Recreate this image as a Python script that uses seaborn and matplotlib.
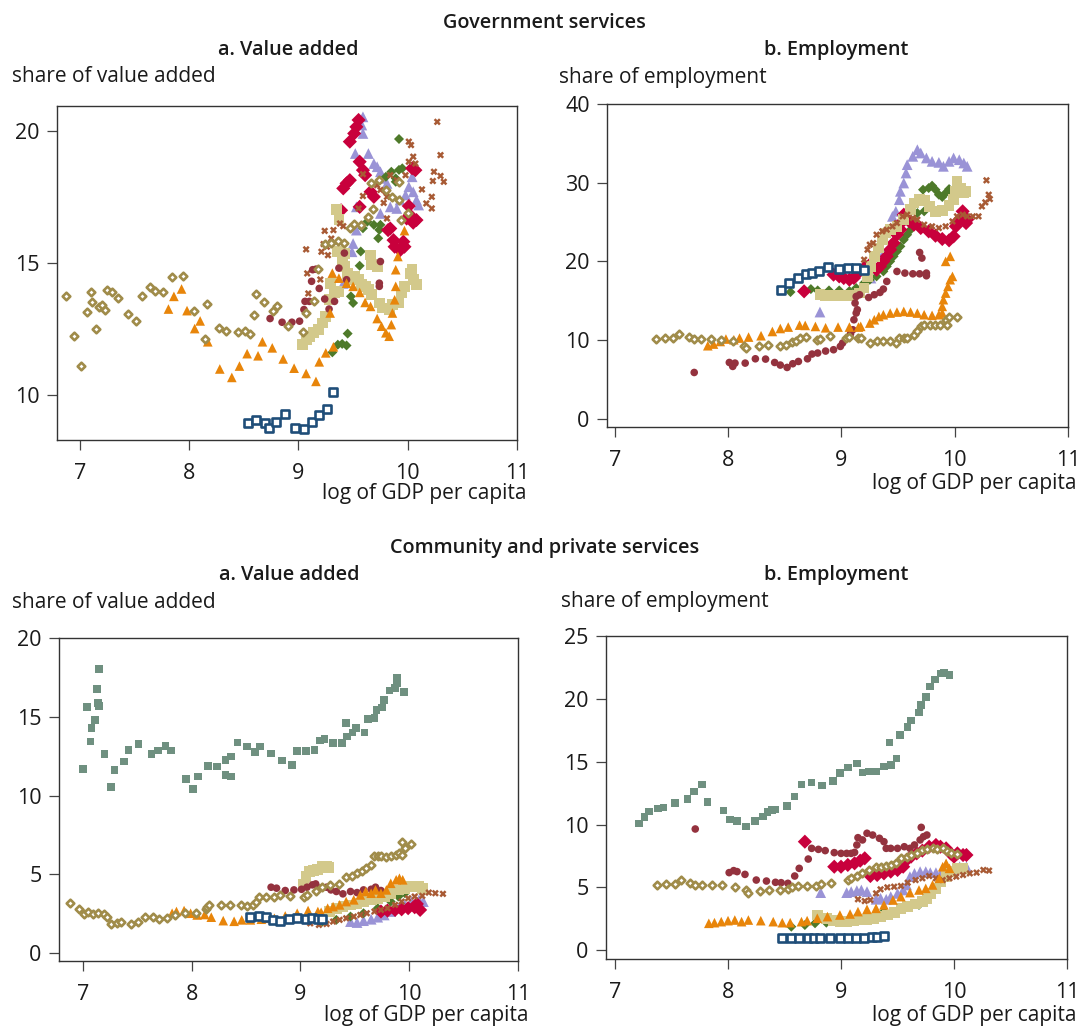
import matplotlib
matplotlib.use("Agg")
import matplotlib.pyplot as plt
import seaborn as sns
import pandas as pd

# ---------------- DATA: (log GDP per capita, share) ----------------
# Government services - value added
GV_NAVY = [(8.54, 8.96), (8.61, 9.06), (8.69, 8.93), (8.73, 8.77), (8.79, 8.98), (8.88, 9.27),
           (8.97, 8.74), (9.05, 8.70), (9.12, 8.98), (9.19, 9.23), (9.26, 9.46), (9.32, 10.13)]
GV_OLIVE = [(6.87, 13.77), (6.95, 12.22), (7.01, 11.12), (7.06, 13.15), (7.10, 13.89), (7.11, 13.51),
            (7.15, 12.50), (7.17, 13.34), (7.20, 13.43), (7.23, 13.21), (7.25, 13.99), (7.29, 13.90),
            (7.35, 13.69), (7.44, 13.07), (7.51, 12.82), (7.57, 13.77), (7.64, 14.10), (7.69, 13.93),
            (7.76, 13.90), (7.84, 14.47), (7.94, 14.50), (8.04, 13.17), (8.14, 12.14), (8.16, 13.45),
            (8.27, 12.53), (8.34, 12.44), (8.45, 12.39), (8.51, 12.44), (8.56, 12.30), (8.59, 13.02),
            (8.61, 13.82), (8.68, 13.54), (8.77, 13.20), (8.80, 13.36), (8.90, 12.60), (9.04, 12.39),
            (9.07, 13.11), (9.14, 13.55), (9.18, 14.77), (9.24, 15.72), (9.30, 15.76), (9.36, 15.82),
            (9.42, 15.76), (9.47, 16.32), (9.51, 16.49), (9.57, 16.45), (9.64, 16.76), (9.68, 17.05),
            (9.66, 18.05), (9.74, 18.15), (9.80, 17.77), (9.86, 17.52), (9.92, 17.39), (9.94, 16.64),
            (10.00, 16.89), (9.92, 18.09)]
GV_ORANGE = [(7.81, 13.26), (7.86, 13.74), (7.93, 14.02), (7.98, 13.20), (8.05, 12.52), (8.10, 12.81),
             (8.17, 12.02), (8.28, 10.99), (8.39, 10.67), (8.46, 11.10), (8.53, 11.57), (8.63, 11.49),
             (8.67, 12.02), (8.76, 11.79), (8.86, 11.37), (8.96, 11.02), (9.07, 10.82), (9.16, 10.52),
             (9.19, 11.26), (9.25, 11.60), (9.32, 11.83), (9.29, 13.11), (9.31, 14.62), (9.37, 14.43),
             (9.44, 14.24), (9.50, 14.12), (9.56, 13.89), (9.61, 13.51), (9.66, 13.36), (9.72, 12.90),
             (9.76, 12.61), (9.80, 12.36), (9.83, 12.23), (9.85, 12.67), (9.86, 13.11), (9.88, 13.61),
             (9.89, 14.12), (9.89, 14.75), (9.91, 15.25), (9.97, 16.23)]
GV_DKRED = [(8.74, 12.90), (8.85, 12.76), (8.94, 12.76), (9.01, 12.80), (9.05, 13.24), (9.06, 13.55),
            (9.10, 13.55), (9.12, 14.31), (9.13, 14.75), (9.16, 14.77), (9.19, 14.04), (9.24, 13.64),
            (9.28, 13.26), (9.33, 13.55), (9.37, 14.81), (9.42, 15.38), (9.44, 14.37), (9.74, 14.24),
            (9.75, 15.06), (9.74, 14.12)]
GV_GREEN = [(9.31, 11.62), (9.36, 11.91), (9.40, 11.94), (9.44, 11.88), (9.45, 12.33), (9.48, 13.74),
            (9.50, 13.49), (9.56, 14.90), (9.57, 15.44), (9.59, 16.32), (9.63, 16.57), (9.69, 16.45),
            (9.73, 15.94), (9.74, 16.26), (9.75, 16.45), (9.80, 18.27), (9.85, 18.46), (9.89, 18.21),
            (9.92, 18.53), (9.95, 18.59), (9.92, 19.70), (9.89, 18.08)]
GV_CRIMSON = [(9.55, 20.42), (9.53, 20.16), (9.51, 19.91), (9.47, 19.60), (9.56, 18.84), (9.59, 18.52),
              (9.61, 18.33), (9.41, 17.83), (9.44, 18.02), (9.47, 18.14), (9.66, 17.70), (9.69, 17.51),
              (9.84, 16.31), (9.87, 15.87), (9.88, 15.62), (9.93, 15.49), (9.97, 15.62), (9.96, 15.81),
              (9.99, 16.69), (10.02, 16.82), (10.05, 16.53), (10.08, 16.63), (10.07, 18.52), (10.04, 18.59),
              (9.56, 17.13), (9.82, 16.25), (10.01, 17.16), (9.39, 17.00)]
GV_LAVENDER = [(9.59, 20.54), (9.58, 20.23), (9.59, 19.91), (9.52, 19.15), (9.64, 19.15), (9.69, 18.77),
               (9.72, 18.65), (9.75, 18.46), (9.78, 18.21), (9.81, 18.02), (9.53, 17.13), (9.75, 16.88),
               (9.84, 17.13), (9.90, 17.07), (9.93, 17.39), (9.98, 17.58), (10.01, 17.89), (10.05, 17.70),
               (10.08, 17.39), (10.10, 17.20), (10.04, 18.27), (9.50, 15.74), (9.49, 15.43), (9.41, 14.23),
               (9.53, 16.25)]
GV_KHAKI = [(9.35, 17.02), (9.37, 16.64), (9.36, 15.44), (9.42, 15.35), (9.40, 15.13), (9.42, 14.87),
            (9.45, 14.62), (9.48, 14.37), (9.51, 14.50), (9.55, 14.37), (9.58, 14.18), (9.61, 14.12),
            (9.66, 15.31), (9.67, 14.94), (9.72, 14.87), (9.64, 13.99), (9.67, 13.80), (9.74, 13.49),
            (9.77, 13.30), (9.83, 13.24), (9.86, 13.43), (9.92, 13.49), (9.94, 13.87), (9.97, 14.12),
            (10.02, 14.62), (10.04, 14.75), (10.05, 14.37), (10.08, 14.18), (9.28, 13.61), (9.25, 12.98),
            (9.22, 12.73), (9.18, 12.48), (9.14, 12.36), (9.10, 12.23), (9.07, 12.10), (9.04, 11.91),
            (9.29, 14.24), (9.33, 13.87), (9.37, 13.93)]
GV_RUST = [(10.27, 20.35), (10.01, 19.60), (10.03, 19.47), (10.30, 19.09), (10.05, 19.03), (10.01, 18.84),
           (10.07, 18.77), (10.24, 18.46), (10.30, 18.30), (10.33, 18.08), (10.23, 18.11), (10.13, 17.79),
           (10.22, 17.51), (10.17, 17.26), (10.22, 17.07), (9.75, 17.77), (9.81, 17.51), (9.72, 17.95),
           (9.59, 18.37), (9.90, 18.14), (9.98, 18.33), (9.84, 18.33), (9.59, 17.54), (9.55, 17.07),
           (9.38, 16.50), (9.41, 16.40), (9.32, 16.25), (9.24, 16.22), (9.30, 15.93), (9.23, 15.72),
           (9.26, 15.62), (9.21, 15.43), (9.27, 15.30), (9.07, 15.52), (9.08, 14.61), (9.20, 14.38),
           (9.09, 13.85), (9.81, 16.69), (9.78, 17.28), (9.80, 17.70)]

# Government services - employment
GE_NAVY = [(8.47, 16.30), (8.54, 17.24), (8.62, 17.88), (8.69, 18.39), (8.74, 18.51), (8.80, 18.81),
           (8.88, 19.23), (8.98, 19.02), (9.06, 19.15), (9.13, 19.15), (9.20, 18.94)]
GE_OLIVE = [(7.36, 10.13), (7.44, 10.20), (7.51, 10.29), (7.57, 10.76), (7.65, 10.38), (7.70, 10.13),
            (7.76, 10.13), (7.85, 10.13), (7.94, 10.04), (8.04, 9.87), (8.14, 9.28), (8.16, 8.98),
            (8.27, 9.19), (8.35, 9.31), (8.46, 9.23), (8.51, 9.36), (8.56, 9.78), (8.60, 9.82),
            (8.63, 10.20), (8.69, 10.38), (8.78, 10.04), (8.81, 10.17), (8.90, 10.46), (9.04, 10.29),
            (9.07, 10.38), (9.15, 10.25), (9.17, 10.25), (9.25, 9.62), (9.31, 9.83), (9.37, 9.83),
            (9.43, 9.83), (9.48, 9.62), (9.51, 10.25), (9.55, 10.25), (9.58, 10.25), (9.64, 10.68),
            (9.67, 11.10), (9.70, 11.74), (9.73, 11.95), (9.78, 11.95), (9.83, 11.95), (9.87, 11.95),
            (9.92, 12.58), (9.93, 11.95), (9.95, 12.92), (10.02, 12.92)]
GE_ORANGE = [(7.82, 9.28), (7.87, 9.49), (7.93, 9.82), (7.98, 10.13), (8.05, 10.04), (8.10, 10.25),
             (8.18, 10.38), (8.29, 10.55), (8.39, 11.09), (8.46, 11.47), (8.53, 11.65), (8.63, 11.90),
             (8.68, 11.86), (8.77, 11.73), (8.86, 11.56), (8.97, 11.65), (9.07, 11.65), (9.15, 11.65),
             (9.17, 11.74), (9.25, 12.16), (9.29, 12.58), (9.33, 13.00), (9.37, 13.22), (9.43, 13.43),
             (9.49, 13.56), (9.55, 13.64), (9.61, 13.56), (9.67, 13.43), (9.73, 13.22), (9.80, 13.14),
             (9.86, 13.22), (9.89, 13.43), (9.89, 14.28), (9.90, 15.13), (9.92, 15.97), (9.94, 16.82),
             (9.96, 17.67), (9.98, 18.09), (9.92, 20.00), (9.96, 20.64)]
GE_DKRED = [(7.70, 5.88), (8.01, 7.15), (8.04, 6.65), (8.06, 7.07), (8.15, 7.07), (8.24, 7.62),
            (8.33, 7.58), (8.41, 7.15), (8.46, 6.82), (8.52, 6.52), (8.57, 6.99), (8.62, 7.28),
            (8.70, 7.62), (8.74, 8.22), (8.79, 8.35), (8.86, 8.60), (8.93, 8.77), (8.99, 9.19),
            (9.01, 9.62), (9.06, 10.25), (9.08, 10.80), (9.10, 11.31), (9.11, 12.58), (9.13, 13.43),
            (9.14, 13.85), (9.12, 14.70), (9.13, 15.54), (9.16, 15.76), (9.24, 15.41), (9.29, 15.76),
            (9.34, 16.05), (9.37, 16.48), (9.40, 17.45), (9.49, 18.72), (9.56, 18.51), (9.63, 18.42),
            (9.69, 18.42), (9.75, 18.51), (9.69, 21.13), (9.71, 20.42), (9.75, 18.17)]
GE_GREEN = [(8.55, 16.10), (8.73, 16.48), (8.79, 16.31), (8.89, 16.31), (8.98, 16.31), (9.07, 16.23),
            (9.13, 16.61), (9.20, 17.25), (9.25, 17.67), (9.31, 18.09), (9.37, 18.73), (9.40, 19.36),
            (9.43, 20.00), (9.46, 20.64), (9.49, 21.27), (9.52, 21.91), (9.55, 22.75), (9.58, 23.39),
            (9.61, 24.03), (9.64, 24.87), (9.67, 26.14), (9.73, 26.36), (9.72, 29.11), (9.77, 29.32),
            (9.80, 29.62), (9.83, 29.11), (9.86, 28.47), (9.89, 28.18), (9.92, 28.69), (9.95, 29.19)]
GE_CRIMSON = [(8.67, 16.19), (8.93, 18.31), (8.98, 18.09), (9.02, 17.88), (9.07, 17.67), (9.11, 17.88),
              (9.16, 18.73), (9.20, 19.15), (9.25, 19.58), (9.31, 18.94), (9.34, 19.36), (9.37, 20.00),
              (9.40, 20.64), (9.43, 21.48), (9.46, 22.33), (9.49, 23.39), (9.52, 24.03), (9.54, 25.08),
              (9.55, 25.93), (9.60, 25.08), (9.64, 24.66), (9.70, 24.24), (9.77, 23.81), (9.83, 23.26),
              (9.89, 22.84), (9.95, 22.67), (9.99, 23.18), (10.01, 24.45), (10.04, 25.30), (10.07, 26.36),
              (10.10, 24.87), (10.11, 25.30)]
GE_LAVENDER = [(8.81, 13.56), (9.26, 17.88), (9.33, 19.36), (9.37, 21.06), (9.42, 24.03), (9.45, 25.72),
               (9.48, 26.36), (9.51, 27.84), (9.52, 28.90), (9.55, 29.96), (9.57, 31.23), (9.58, 32.29),
               (9.63, 33.35), (9.67, 34.19), (9.70, 33.77), (9.75, 33.14), (9.80, 32.71), (9.86, 32.58),
               (9.90, 32.08), (9.95, 32.71), (9.99, 33.14), (10.04, 32.92), (10.08, 32.50), (10.11, 32.08)]
GE_KHAKI = [(8.81, 15.76), (8.86, 15.64), (8.92, 15.64), (8.98, 15.64), (9.04, 15.64), (9.10, 15.64),
            (9.16, 15.97), (9.20, 16.61), (9.23, 18.09), (9.26, 19.36), (9.29, 20.64), (9.33, 21.69),
            (9.36, 22.75), (9.39, 23.60), (9.43, 24.03), (9.49, 24.45), (9.55, 25.30), (9.61, 26.57),
            (9.64, 27.42), (9.69, 27.84), (9.73, 27.75), (9.78, 26.99), (9.83, 26.36), (9.89, 26.48),
            (9.95, 27.08), (9.99, 27.84), (10.01, 28.90), (10.02, 30.17), (10.05, 29.32), (10.08, 28.69),
            (10.10, 28.90)]
GE_RUST = [(9.20, 20.21), (9.23, 21.48), (9.25, 22.12), (9.28, 22.33), (9.31, 23.39), (9.36, 23.81),
           (9.40, 24.03), (9.45, 24.45), (9.49, 24.87), (9.54, 25.72), (9.58, 25.93), (9.63, 25.51),
           (9.67, 25.30), (9.73, 24.66), (9.80, 24.45), (9.86, 24.24), (9.92, 24.45), (9.98, 25.08),
           (10.02, 25.72), (10.07, 25.93), (10.11, 25.72), (10.16, 25.72), (10.21, 25.72), (10.24, 26.99),
           (10.27, 27.50), (10.31, 27.92), (10.30, 28.47), (10.28, 30.30)]

# Community and private services - value added
CV_GRAY = [(7.00, 11.68), (7.04, 15.62), (7.07, 13.44), (7.08, 14.29), (7.11, 14.81), (7.13, 16.76),
           (7.14, 15.87), (7.15, 18.03), (7.15, 15.70), (7.20, 12.63), (7.26, 10.54), (7.29, 11.64),
           (7.38, 12.17), (7.42, 12.91), (7.51, 13.29), (7.63, 12.66), (7.69, 12.87), (7.76, 13.16),
           (7.81, 12.87), (7.95, 11.05), (8.01, 10.43), (8.06, 11.22), (8.15, 11.89), (8.23, 11.85),
           (8.31, 12.28), (8.31, 11.32), (8.36, 12.49), (8.36, 11.22), (8.42, 13.38), (8.51, 13.12),
           (8.58, 12.76), (8.63, 13.12), (8.73, 12.68), (8.83, 12.23), (8.92, 11.96), (8.97, 12.85),
           (9.05, 12.85), (9.13, 12.89), (9.18, 13.50), (9.22, 13.59), (9.30, 13.35), (9.38, 13.35),
           (9.42, 14.60), (9.43, 13.76), (9.48, 14.01), (9.51, 14.29), (9.59, 14.01), (9.62, 14.86),
           (9.68, 14.92), (9.70, 15.45), (9.75, 15.60), (9.77, 16.08), (9.82, 16.68), (9.87, 16.83),
           (9.89, 17.14), (9.89, 17.50), (9.95, 16.59)]
CV_NAVY = [(8.54, 2.29), (8.62, 2.37), (8.68, 2.29), (8.75, 2.12), (8.81, 2.07), (8.89, 2.18),
           (8.97, 2.22), (9.05, 2.18), (9.11, 2.22), (9.16, 2.16), (9.20, 2.16)]
CV_OLIVE = [(6.88, 3.17), (6.96, 2.79), (7.01, 2.50), (7.05, 2.65), (7.09, 2.50), (7.14, 2.54),
            (7.19, 2.50), (7.22, 2.29), (7.26, 1.86), (7.31, 1.95), (7.35, 1.97), (7.44, 1.86),
            (7.51, 2.01), (7.57, 2.33), (7.64, 2.33), (7.70, 2.18), (7.77, 2.22), (7.85, 2.41),
            (7.94, 2.58), (8.04, 2.58), (8.13, 2.79), (8.14, 2.92), (8.16, 3.07), (8.27, 3.07),
            (8.35, 3.07), (8.45, 3.07), (8.51, 3.03), (8.56, 3.07), (8.59, 3.28), (8.62, 3.56),
            (8.68, 3.60), (8.76, 3.56), (8.81, 3.70), (8.90, 3.66), (9.03, 3.60), (9.06, 3.70),
            (9.14, 3.98), (9.20, 4.23), (9.27, 4.34), (9.35, 4.40), (9.42, 4.87), (9.47, 4.93),
            (9.52, 5.08), (9.57, 5.25), (9.60, 5.40), (9.65, 5.61), (9.68, 6.14), (9.71, 6.14),
            (9.74, 6.18), (9.79, 6.10), (9.83, 6.14), (9.88, 6.24), (9.91, 6.35), (9.93, 6.24),
            (9.93, 7.07), (9.96, 6.67), (10.02, 6.94)]
CV_ORANGE = [(7.82, 2.54), (7.86, 2.65), (7.93, 2.71), (7.99, 2.54), (8.05, 2.43), (8.12, 2.46),
             (8.18, 2.29), (8.29, 2.07), (8.39, 2.03), (8.46, 2.12), (8.54, 2.12), (8.64, 2.16),
             (8.68, 2.22), (8.76, 2.22), (8.86, 2.37), (8.97, 2.54), (9.07, 2.71), (9.16, 2.65),
             (9.19, 2.60), (9.25, 2.86), (9.30, 2.96), (9.36, 3.07), (9.42, 3.28), (9.49, 3.39),
             (9.55, 3.70), (9.60, 3.92), (9.65, 3.81), (9.69, 4.02), (9.74, 3.81), (9.79, 4.02),
             (9.83, 4.44), (9.88, 4.66), (9.91, 4.76), (9.94, 4.66)]
CV_DKRED = [(8.73, 4.19), (8.78, 4.13), (8.86, 3.98), (8.94, 4.02), (9.01, 4.06), (9.06, 4.19),
            (9.11, 4.34), (9.14, 4.40), (9.17, 4.13), (9.24, 4.19), (9.28, 4.02), (9.33, 3.92),
            (9.39, 3.77), (9.46, 3.92), (9.52, 3.85), (9.58, 4.02), (9.65, 4.06), (9.69, 4.19),
            (9.74, 3.98)]
CV_GREEN = [(9.20, 2.01), (9.33, 2.12), (9.46, 2.33), (9.58, 2.54), (9.71, 2.86), (9.83, 3.28),
            (9.90, 3.60), (9.96, 3.81)]
CV_CRIMSON = [(9.74, 2.65), (9.80, 2.71), (9.87, 2.75), (9.93, 2.79), (9.99, 2.86), (10.05, 2.92),
              (10.10, 2.75), (10.07, 3.13)]
CV_LAVENDER = [(9.46, 2.01), (9.52, 1.95), (9.58, 2.07), (9.65, 2.16), (9.71, 2.29), (9.77, 2.43),
               (9.83, 2.65), (9.90, 2.86), (9.96, 3.07), (10.02, 3.28), (10.09, 3.39), (10.13, 3.28)]
CV_KHAKI = [(9.03, 4.34), (9.05, 4.87), (9.08, 5.19), (9.12, 5.25), (9.16, 5.33), (9.20, 5.50),
            (9.24, 5.54), (9.26, 5.46), (9.27, 2.65), (9.33, 2.86), (9.39, 2.96), (9.46, 3.07),
            (9.52, 3.17), (9.58, 3.28), (9.65, 3.39), (9.71, 3.49), (9.77, 3.60), (9.83, 3.81),
            (9.90, 4.02), (9.96, 4.13), (10.02, 4.23), (10.09, 4.23), (10.12, 4.13)]
CV_RUST = [(9.09, 1.90), (9.17, 1.80), (9.24, 1.86), (9.30, 2.01), (9.36, 2.12), (9.42, 2.22),
           (9.49, 2.33), (9.55, 2.43), (9.61, 2.54), (9.68, 2.65), (9.74, 2.75), (9.80, 2.86),
           (9.87, 3.07), (9.93, 3.28), (9.99, 3.49), (10.05, 3.60), (10.12, 3.64), (10.18, 3.85),
           (10.24, 3.81), (10.31, 3.77)]

# Community and private services - employment
CE_GRAY = [(7.21, 10.10), (7.26, 10.58), (7.30, 11.03), (7.38, 11.29), (7.43, 11.37), (7.53, 11.74),
           (7.64, 12.04), (7.70, 12.62), (7.77, 13.20), (7.82, 11.82), (7.96, 11.11), (8.02, 10.42),
           (8.08, 10.31), (8.16, 9.84), (8.24, 10.29), (8.31, 10.63), (8.35, 10.98), (8.39, 11.16),
           (8.42, 11.21), (8.52, 11.48), (8.59, 12.22), (8.65, 13.20), (8.74, 13.34), (8.83, 13.10),
           (8.93, 13.47), (8.99, 14.08), (9.06, 14.55), (9.14, 14.87), (9.19, 14.13), (9.25, 14.21),
           (9.31, 14.21), (9.38, 14.61), (9.44, 14.74), (9.43, 16.54), (9.49, 15.27), (9.52, 17.13),
           (9.59, 17.74), (9.62, 18.27), (9.69, 18.93), (9.71, 19.51), (9.75, 20.17), (9.79, 20.97),
           (9.83, 21.55), (9.88, 22.03), (9.91, 22.08), (9.96, 21.90)]
CE_NAVY = [(8.48, 0.95), (8.56, 0.95), (8.63, 0.95), (8.71, 0.95), (8.76, 0.95), (8.81, 0.95),
           (8.90, 1.01), (8.99, 0.95), (9.06, 0.95), (9.13, 0.95), (9.20, 1.01), (9.27, 1.03),
           (9.32, 1.09), (9.38, 1.14)]
CE_OLIVE = [(7.37, 5.20), (7.45, 5.25), (7.53, 5.28), (7.58, 5.59), (7.66, 5.33), (7.71, 5.20),
            (7.77, 5.20), (7.86, 5.20), (7.95, 5.20), (8.06, 5.06), (8.16, 4.80), (8.18, 4.59),
            (8.28, 4.72), (8.36, 4.80), (8.46, 4.80), (8.53, 4.85), (8.57, 5.01), (8.62, 5.12),
            (8.70, 5.14), (8.78, 5.14), (8.82, 5.28), (8.91, 5.33), (9.06, 5.59), (9.09, 5.78),
            (9.14, 5.91), (9.19, 6.12), (9.25, 6.39), (9.31, 6.65), (9.35, 6.65), (9.40, 6.73),
            (9.44, 6.79), (9.49, 6.92), (9.53, 7.32), (9.58, 7.45), (9.62, 7.58), (9.67, 7.71),
            (9.72, 7.98), (9.76, 8.03), (9.81, 8.11), (9.85, 8.03), (9.90, 8.11), (9.94, 7.93),
            (9.97, 7.71), (10.03, 7.66)]
CE_ORANGE = [(7.83, 2.15), (7.88, 2.20), (7.94, 2.28), (8.00, 2.36), (8.06, 2.41), (8.12, 2.28),
             (8.18, 2.41), (8.29, 2.36), (8.40, 2.28), (8.48, 2.20), (8.55, 2.20), (8.65, 2.28),
             (8.70, 2.36), (8.79, 2.55), (8.88, 2.68), (8.99, 2.81), (9.08, 2.89), (9.15, 3.08),
             (9.23, 3.26), (9.31, 3.34), (9.38, 3.61), (9.46, 4.00), (9.53, 4.27), (9.61, 4.59),
             (9.69, 4.80), (9.75, 4.93), (9.81, 5.20), (9.87, 5.73), (9.90, 6.65), (9.93, 6.92),
             (9.96, 6.52)]
CE_DKRED = [(7.71, 9.65), (8.01, 6.18), (8.05, 6.34), (8.08, 6.26), (8.15, 6.04), (8.25, 5.59),
            (8.34, 5.51), (8.42, 5.41), (8.47, 5.38), (8.53, 5.33), (8.59, 5.91), (8.63, 6.52),
            (8.71, 7.26), (8.74, 8.11), (8.80, 8.03), (8.86, 7.93), (8.94, 7.77), (9.00, 7.71),
            (9.05, 7.71), (9.09, 7.71), (9.12, 7.79), (9.14, 8.38), (9.15, 8.96), (9.19, 8.78),
            (9.23, 9.31), (9.28, 9.17), (9.34, 8.91), (9.38, 8.64), (9.40, 8.11), (9.44, 8.11),
            (9.50, 8.11), (9.56, 8.24), (9.61, 8.11), (9.65, 8.38), (9.70, 8.78), (9.73, 9.04),
            (9.76, 9.17), (9.71, 9.78)]
CE_GREEN = [(8.56, 1.88), (8.68, 2.01), (8.77, 2.15), (8.87, 2.20), (8.99, 2.47), (9.14, 2.68),
            (9.38, 3.08), (9.56, 3.34), (9.69, 3.61), (9.76, 4.00)]
CE_CRIMSON = [(8.68, 8.64), (8.94, 6.65), (9.00, 6.65), (9.06, 6.79), (9.12, 6.92), (9.17, 7.13),
              (9.21, 7.32), (9.26, 5.91), (9.32, 5.99), (9.38, 6.12), (9.44, 6.26), (9.50, 6.39),
              (9.55, 6.65), (9.58, 7.18), (9.62, 7.45), (9.67, 7.71), (9.72, 7.93), (9.78, 8.24),
              (9.84, 8.38), (9.88, 8.24), (9.93, 8.11), (9.97, 7.71), (10.00, 7.45), (10.03, 7.71),
              (10.08, 7.58), (10.11, 7.58)]
CE_LAVENDER = [(8.82, 4.59), (9.05, 4.59), (9.09, 4.67), (9.14, 4.75), (9.18, 4.80), (9.23, 4.67),
               (9.31, 4.06), (9.35, 4.14), (9.40, 4.06), (9.44, 4.27), (9.50, 4.53), (9.55, 4.80),
               (9.58, 5.20), (9.61, 5.86), (9.65, 6.12), (9.70, 6.26), (9.75, 6.26), (9.79, 6.18),
               (9.84, 6.18), (9.88, 6.07), (9.93, 6.26), (9.99, 6.39), (10.05, 6.65), (10.11, 6.65)]
CE_KHAKI = [(8.79, 2.81), (8.87, 2.55), (8.93, 2.36), (8.99, 2.28), (9.05, 2.28), (9.11, 2.36),
            (9.17, 2.47), (9.23, 2.47), (9.29, 2.55), (9.35, 2.68), (9.41, 2.81), (9.47, 3.00),
            (9.53, 3.34), (9.59, 3.47), (9.66, 3.69), (9.72, 3.87), (9.76, 4.14), (9.79, 4.53),
            (9.84, 4.93), (9.88, 5.46), (9.93, 5.86), (9.97, 6.26), (10.03, 6.52), (10.08, 6.52)]
CE_RUST = [(9.15, 4.06), (9.21, 3.92), (9.26, 4.00), (9.31, 4.53), (9.35, 4.85), (9.41, 5.01),
           (9.47, 5.06), (9.53, 5.12), (9.59, 5.38), (9.66, 5.59), (9.72, 5.73), (9.78, 5.91),
           (9.84, 5.73), (9.90, 5.59), (9.96, 5.73), (10.02, 5.86), (10.08, 5.99), (10.14, 6.12),
           (10.20, 6.18), (10.26, 6.39), (10.31, 6.34)]

X_TICKS = [7, 8, 9, 10, 11]
GV_YTICKS = [10, 15, 20]
GE_YTICKS = [0, 10, 20, 30, 40]
CV_YTICKS = [0, 5, 10, 15, 20]
CE_YTICKS = [0, 5, 10, 15, 20, 25]

# ---------------- STYLE ----------------
STYLE = {
    "lavender": dict(marker="^", s=60, color="#9a93d6", edgecolor="none"),
    "green": dict(marker="D", s=26, color="#4e7a2a", edgecolor="none"),
    "crimson": dict(marker="D", s=52, color="#c8003c", edgecolor="none"),
    "khaki": dict(marker="s", s=60, color="#d3c98b", edgecolor="none"),
    "rust": dict(marker="X", s=26, color="#a85a34", edgecolor="none"),
    "dkred": dict(marker="o", s=30, color="#94323e", edgecolor="none"),
    "orange": dict(marker="^", s=48, color="#e8850a", edgecolor="none"),
    "navy": dict(marker="s", s=26, color="white", edgecolor="#1f4e79", linewidth=1.9),
    "olive": dict(marker="D", s=15, color="white", edgecolor="#a08c4a", linewidth=1.9),
    "gray": dict(marker="s", s=30, color="#6f9080", edgecolor="none"),
}
ORDER = ["gray", "lavender", "green", "crimson", "khaki", "rust", "dkred", "orange", "navy", "olive"]

PANELS = [
    dict(rect=(57, 106, 517, 440), xlim=(6.79, 11), ylim=(8.3, 20.95), yticks=GV_YTICKS,
         data={"navy": GV_NAVY, "olive": GV_OLIVE, "orange": GV_ORANGE, "dkred": GV_DKRED,
               "green": GV_GREEN, "crimson": GV_CRIMSON, "lavender": GV_LAVENDER,
               "khaki": GV_KHAKI, "rust": GV_RUST}),
    dict(rect=(607, 104, 1068, 427), xlim=(6.93, 11), ylim=(-1.05, 40), yticks=GE_YTICKS,
         data={"navy": GE_NAVY, "olive": GE_OLIVE, "orange": GE_ORANGE, "dkred": GE_DKRED,
               "green": GE_GREEN, "crimson": GE_CRIMSON, "lavender": GE_LAVENDER,
               "khaki": GE_KHAKI, "rust": GE_RUST}),
    dict(rect=(59, 638, 518, 961), xlim=(6.78, 11), ylim=(-0.49, 20), yticks=CV_YTICKS,
         data={"gray": CV_GRAY, "navy": CV_NAVY, "olive": CV_OLIVE, "orange": CV_ORANGE,
               "dkred": CV_DKRED, "green": CV_GREEN, "crimson": CV_CRIMSON,
               "lavender": CV_LAVENDER, "khaki": CV_KHAKI, "rust": CV_RUST}),
    dict(rect=(606, 636, 1067, 959), xlim=(6.92, 11), ylim=(-0.69, 25), yticks=CE_YTICKS,
         data={"gray": CE_GRAY, "navy": CE_NAVY, "olive": CE_OLIVE, "orange": CE_ORANGE,
               "dkred": CE_DKRED, "green": CE_GREEN, "crimson": CE_CRIMSON,
               "lavender": CE_LAVENDER, "khaki": CE_KHAKI, "rust": CE_RUST}),
]

sns.set_theme(style="white")
plt.rcParams["font.family"] = ["Open Sans", "DejaVu Sans"]

W, H = 1079, 1029
fig = plt.figure(figsize=(W / 100, H / 100), dpi=100)
TXT = "#1a1a1a"
LBL = 15
TICK = 15.5
TTL = 14.3
TW = "semibold"


def fx(px):
    return px / W


def fy(py):
    return 1 - py / H


for p in PANELS:
    l, t, r, b = p["rect"]
    ax = fig.add_axes([fx(l), fy(b), (r - l) / W, (b - t) / H])
    for key in ORDER:
        if key not in p["data"]:
            continue
        df = pd.DataFrame(p["data"][key], columns=["lgdp", "share"])
        sns.scatterplot(data=df, x="lgdp", y="share", ax=ax, legend=False, zorder=3, **STYLE[key])
    ax.set_xlim(*p["xlim"])
    ax.set_ylim(*p["ylim"])
    ax.set_xticks(X_TICKS)
    ax.set_yticks(p["yticks"])
    ax.set_xlabel("")
    ax.set_ylabel("")
    for sp in ax.spines.values():
        sp.set_visible(True)
        sp.set_color("#333333")
        sp.set_linewidth(1.0)
    ax.tick_params(direction="out", length=7.5, width=0.9, color="#444444", labelsize=TICK,
                   labelcolor=TXT, bottom=True, left=True)
    ax.tick_params(axis="x", pad=9)
    ax.tick_params(axis="y", pad=5)

# texts
fig.text(fx(544), fy(23), "Government services", ha="center", va="center", fontsize=TTL,
         fontweight=TW, color=TXT)
fig.text(fx(288), fy(50), "a. Value added", ha="center", va="center", fontsize=TTL,
         fontweight=TW, color=TXT)
fig.text(fx(836), fy(50), "b. Employment", ha="center", va="center", fontsize=TTL,
         fontweight=TW, color=TXT)
fig.text(fx(12), fy(77), "share of value added", ha="left", va="center", fontsize=LBL, color=TXT)
fig.text(fx(559), fy(77), "share of employment", ha="left", va="center", fontsize=LBL, color=TXT)
fig.text(fx(527), fy(494), "log of GDP per capita", ha="right", va="center", fontsize=LBL, color=TXT)
fig.text(fx(1077), fy(483), "log of GDP per capita", ha="right", va="center", fontsize=LBL, color=TXT)

fig.text(fx(545), fy(548), "Community and private services", ha="center", va="center", fontsize=TTL,
         fontweight=TW, color=TXT)
fig.text(fx(289), fy(575), "a. Value added", ha="center", va="center", fontsize=TTL,
         fontweight=TW, color=TXT)
fig.text(fx(836), fy(575), "b. Employment", ha="center", va="center", fontsize=TTL,
         fontweight=TW, color=TXT)
fig.text(fx(12), fy(602), "share of value added", ha="left", va="center", fontsize=LBL, color=TXT)
fig.text(fx(561), fy(601), "share of employment", ha="left", va="center", fontsize=LBL, color=TXT)
fig.text(fx(528), fy(1016), "log of GDP per capita", ha="right", va="center", fontsize=LBL, color=TXT)
fig.text(fx(1077), fy(1016), "log of GDP per capita", ha="right", va="center", fontsize=LBL, color=TXT)

fig.savefig("out.png", dpi=100, facecolor="white")
